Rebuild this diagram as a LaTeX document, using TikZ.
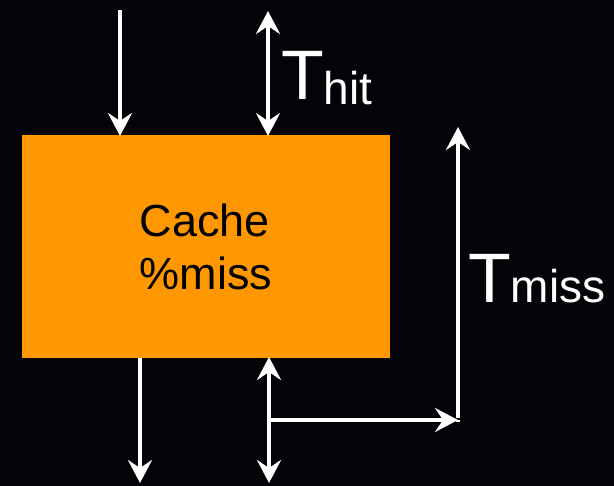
\documentclass[tikz,border=0pt]{standalone}
\usepackage{fontspec}
\setmainfont{Liberation Sans}
\usetikzlibrary{arrows.meta}
\definecolor{cacheorange}{RGB}{255,152,0}
\definecolor{slidebg}{RGB}{4,4,8}
\tikzset{
  tip/.style={Stealth[length=23pt,width=24pt,inset=8pt]},
  flow/.style={draw=white, line width=4pt, -{Stealth[length=23pt,width=24pt,inset=8pt]}},
  bothway/.style={draw=white, line width=4pt, {Stealth[length=23pt,width=24pt,inset=8pt]}-{Stealth[length=23pt,width=24pt,inset=8pt]}},
  plain/.style={draw=white, line width=4pt},
  cachebox/.style={fill=cacheorange, minimum width=368pt, minimum height=223pt, inner sep=0pt},
  biglabel/.style={text=white, inner sep=0pt}
}
\begin{document}
\begin{tikzpicture}[x=1pt,y=-1pt]
  \fill[slidebg] (0,0) rectangle (614,486);
  \useasboundingbox (0,0) rectangle (614,486);

  % the cache block
  \node[cachebox] (cache) at (206,246.5) {};
  \node[text=black, inner sep=0pt, anchor=base, font=\fontsize{45}{53}\selectfont] (cacheline) at (205,237) {Cache};
  \node[text=black, inner sep=0pt, anchor=base, font=\fontsize{45}{53}\selectfont] (missline) at (206,290) {\%miss};

  % request in / data out
  \coordinate (inTop) at (120,10);
  \coordinate (inTip) at (120,136);
  \draw[flow] (inTop) -- (inTip);
  \coordinate (outTop) at (140,358);
  \coordinate (outTip) at (140,483);
  \draw[flow] (outTop) -- (outTip);

  % hit time above the cache
  \coordinate (hitTop) at (268,11);
  \coordinate (hitBot) at (268,136);
  \draw[bothway] (hitTop) -- (hitBot);
  \node[biglabel, anchor=base west] (thit) at (281,100)
    {\fontsize{70}{70}\selectfont T\raisebox{-5pt}{\fontsize{46}{46}\selectfont hit}};

  % miss path below the cache
  \coordinate (missTop) at (269,357);
  \coordinate (missBot) at (269,483);
  \draw[bothway] (missTop) -- (missBot);
  \coordinate (branch) at (269,420);
  \coordinate (corner) at (458,420);
  \coordinate (missUp) at (458,127);
  \draw[flow] (branch) -- (corner);
  \draw[plain] (corner) -- ++(0,2);
  \draw[flow] ([yshift=2pt]corner) -- (missUp);
  \node[biglabel, anchor=base west] (tmiss) at (468,303)
    {\fontsize{70}{70}\selectfont T\fontsize{46}{46}\selectfont miss};
\end{tikzpicture}
\end{document}
